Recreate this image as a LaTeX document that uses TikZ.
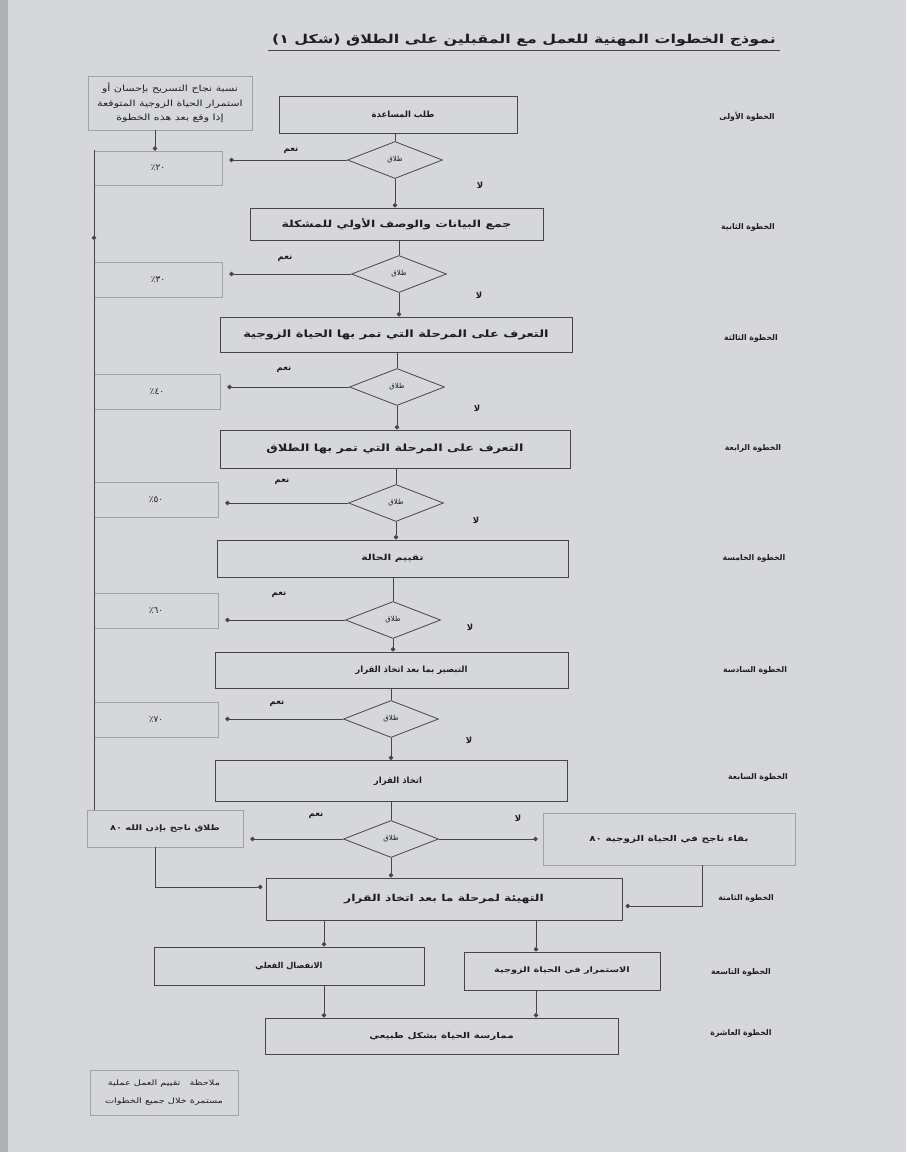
\documentclass[tikz,border=0pt]{standalone}
\usepackage{fontspec}
\usetikzlibrary{arrows.meta,shapes.geometric}
\TeXXeTstate=1
\newfontfamily\arf[Script=Arabic]{DejaVu Sans}
\newfontfamily\arw[Script=Arabic,FakeStretch=1.3]{DejaVu Sans}
\newcommand\AR[1]{{\arf\beginR #1\endR}}
\newcommand\ARW[1]{{\arw\beginR #1\endR}}
\definecolor{paper}{RGB}{213,215,219}
\definecolor{edge}{RGB}{175,177,182}
\definecolor{linec}{RGB}{70,70,72}
\definecolor{lightc}{RGB}{160,162,166}
\definecolor{txt}{RGB}{30,30,32}
\begin{document}
\begin{tikzpicture}[x=1pt,y=-1pt,
  mainbox/.style={draw=linec,line width=0.9pt,inner sep=0pt,font=\bfseries\fontsize{8}{9}\selectfont,text=txt},
  pctbox/.style={draw=lightc,line width=0.6pt,inner sep=0pt,font=\arf\fontsize{9}{10}\selectfont,text=txt},
  decide/.style={diamond,draw=linec,line width=0.8pt,inner sep=0pt,minimum width=95pt,minimum height=37pt,font=\fontsize{7}{8}\selectfont,text=txt},
  lab/.style={font=\bfseries\fontsize{8.5}{9}\selectfont,text=txt},
  steplab/.style={font=\bfseries\fontsize{7.8}{9}\selectfont,text=txt},
  conn/.style={draw=linec,line width=0.8pt},
  arr/.style={conn,-{Circle[length=4.5pt]}}
]
\fill[paper] (0,0) rectangle (906,1152);
\fill[edge] (0,0) rectangle (8,1152);
\useasboundingbox (0,0) rectangle (906,1152);

% title
\node[font=\bfseries\fontsize{12.2}{14}\selectfont,text=txt] (title) at (524,40) {\ARW{نموذج الخطوات المهنية للعمل مع المقبلين على الطلاق (شكل \beginL ١\endL)}};
\draw[linec,line width=1.1pt] ([yshift=-1pt]title.south west) -- ([yshift=-1pt]title.south east);

% top-left explanatory box
\node[pctbox,minimum width=164pt,minimum height=54pt,align=center,font=\fontsize{8.5}{14.5}\selectfont] (expl) at (170,103) {\ARW{نسبة نجاح التسريح بإحسان أو}\\\ARW{استمرار الحياة الزوجية المتوقعة}\\\ARW{إذا وقع بعد هذه الخطوة}};

% main boxes
\node[mainbox,minimum width=238pt,minimum height=37pt,font=\bfseries\fontsize{8.5}{10}\selectfont] (b1) at (398,114.5) {\hspace*{10pt}\AR{طلب المساعدة}};
\node[mainbox,minimum width=293pt,minimum height=32pt,font=\bfseries\fontsize{9.6}{11}\selectfont] (b2) at (396.5,224) {\ARW{جمع البيانات والوصف الأولي للمشكلة}};
\node[mainbox,minimum width=352pt,minimum height=35pt,font=\bfseries\fontsize{10}{11}\selectfont] (b3) at (396,334.5) {\ARW{التعرف على المرحلة التي تمر بها الحياة الزوجية}};
\node[mainbox,minimum width=350pt,minimum height=38pt,font=\bfseries\fontsize{9.9}{11}\selectfont] (b4) at (395,449) {\ARW{التعرف على المرحلة التي تمر بها الطلاق}};
\node[mainbox,minimum width=351pt,minimum height=37pt,font=\bfseries\fontsize{8.2}{10}\selectfont] (b5) at (392.5,558.5) {\ARW{تقييم الحالة}};
\node[mainbox,minimum width=353pt,minimum height=36pt,font=\bfseries\fontsize{8.5}{10}\selectfont] (b6) at (391.5,670) {\hspace*{40pt}\AR{التبصير بما بعد اتخاذ القرار}};
\node[mainbox,minimum width=352pt,minimum height=41pt,font=\bfseries\fontsize{8.5}{10}\selectfont] (b7) at (391,781) {\hspace*{14pt}\AR{اتخاذ القرار}};
\node[mainbox,minimum width=356pt,minimum height=42pt,font=\bfseries\fontsize{9.5}{11}\selectfont] (b8) at (444,899) {\ARW{التهيئة لمرحلة ما بعد اتخاذ القرار}};
\node[mainbox,minimum width=270pt,minimum height=38pt,font=\bfseries\fontsize{8.2}{9}\selectfont] (b9a) at (289,966) {\AR{الانفصال الفعلي}};
\node[mainbox,minimum width=196pt,minimum height=38pt,font=\bfseries\fontsize{7.5}{9}\selectfont] (b9b) at (562,971) {\ARW{الاستمرار في الحياة الزوجية}};
\node[mainbox,minimum width=353pt,minimum height=36pt,font=\bfseries\fontsize{8}{9}\selectfont] (b10) at (441.5,1036) {\ARW{ممارسة الحياة بشكل طبيعي}};

% decisions
\node[decide] (d1) at (395,160) {\AR{طلاق}};
\node[decide] (d2) at (399,274) {\AR{طلاق}};
\node[decide] (d3) at (397,387) {\AR{طلاق}};
\node[decide] (d4) at (396,503) {\AR{طلاق}};
\node[decide] (d5) at (393,620) {\AR{طلاق}};
\node[decide] (d6) at (391,719) {\AR{طلاق}};
\node[decide] (d7) at (391,839) {\AR{طلاق}};

% percentage boxes
\node[pctbox,minimum width=128pt,minimum height=34pt] (p1) at (158,168) {\AR{\beginL ٢٠\endL ٪}};
\node[pctbox,minimum width=128pt,minimum height=35pt] (p2) at (158,280) {\AR{\beginL ٣٠\endL ٪}};
\node[pctbox,minimum width=126pt,minimum height=35pt] (p3) at (157,392) {\AR{\beginL ٤٠\endL ٪}};
\node[pctbox,minimum width=124pt,minimum height=35pt] (p4) at (156,500) {\AR{\beginL ٥٠\endL ٪}};
\node[pctbox,minimum width=124pt,minimum height=35pt] (p5) at (156,611) {\AR{\beginL ٦٠\endL ٪}};
\node[pctbox,minimum width=124pt,minimum height=35pt] (p6) at (156,720) {\AR{\beginL ٧٠\endL ٪}};

% outcome boxes
\node[pctbox,minimum width=156pt,minimum height=37pt,font=\bfseries\fontsize{7.5}{8}\selectfont] (ol) at (165,828.5) {\ARW{طلاق ناجح بإذن الله \beginL ٨٠\endL}};
\node[pctbox,minimum width=252pt,minimum height=52pt,font=\bfseries\fontsize{8}{9}\selectfont] (or) at (669,839) {\ARW{بقاء ناجح في الحياة الزوجية \beginL ٨٠\endL}};

% note
\node[pctbox,minimum width=148pt,minimum height=45pt,align=center,font=\fontsize{7.5}{18}\selectfont] (note) at (164,1093) {\ARW{ملاحظة\ \ \ تقييم العمل عملية}\\\ARW{مستمرة خلال جميع الخطوات}};

% step labels
\node[steplab] (s1) at (747,117) {\AR{الخطوة الأولى}};
\node[steplab] (s2) at (748,227) {\AR{الخطوة الثانية}};
\node[steplab] (s3) at (751,338) {\AR{الخطوة الثالثة}};
\node[steplab] (s4) at (753,448) {\AR{الخطوة الرابعة}};
\node[steplab] (s5) at (754,558) {\AR{الخطوة الخامسة}};
\node[steplab] (s6) at (755,670) {\AR{الخطوة السادسة}};
\node[steplab] (s7) at (758,777) {\AR{الخطوة السابعة}};
\node[steplab] (s8) at (746,898) {\AR{الخطوة الثامنة}};
\node[steplab] (s9) at (741,972) {\AR{الخطوة التاسعة}};
\node[steplab] (s10) at (741,1033) {\AR{الخطوة العاشرة}};

% helper coordinates
\coordinate (xa) at (155,0);
\coordinate (xb) at (702,0);
\coordinate (xc) at (324,0);
\coordinate (xd) at (536,0);
\coordinate (ya) at (0,887);
\coordinate (yb) at (0,906);

% vertical flow
\draw[arr] (expl.south -| xa) -- (p1.north -| xa);
\draw[conn] (b1.south -| d1.north) -- (d1.north);
\draw[arr] (d1.south) -- (d1.south |- b2.north);
\draw[conn] (b2.south -| d2.north) -- (d2.north);
\draw[arr] (d2.south) -- (d2.south |- b3.north);
\draw[conn] (b3.south -| d3.north) -- (d3.north);
\draw[arr] (d3.south) -- (d3.south |- b4.north);
\draw[conn] (b4.south -| d4.north) -- (d4.north);
\draw[arr] (d4.south) -- (d4.south |- b5.north);
\draw[conn] (b5.south -| d5.north) -- (d5.north);
\draw[arr] (d5.south) -- (d5.south |- b6.north);
\draw[conn] (b6.south -| d6.north) -- (d6.north);
\draw[arr] (d6.south) -- (d6.south |- b7.north);
\draw[conn] (b7.south -| d7.north) -- (d7.north);
\draw[arr] (d7.south) -- (d7.south |- b8.north);

% yes branches
\draw[arr] (d1.west) -- ([xshift=7pt]p1.east |- d1.west);
\draw[arr] (d2.west) -- ([xshift=7pt]p2.east |- d2.west);
\draw[arr] (d3.west) -- ([xshift=7pt]p3.east |- d3.west);
\draw[arr] (d4.west) -- ([xshift=7pt]p4.east |- d4.west);
\draw[arr] (d5.west) -- ([xshift=7pt]p5.east |- d5.west);
\draw[arr] (d6.west) -- ([xshift=7pt]p6.east |- d6.west);
\draw[arr] (d7.west) -- ([xshift=7pt]ol.east |- d7.west);
\draw[arr] (d7.east) -- ([xshift=-5pt]or.west |- d7.east);

% left collector line
\coordinate (lt) at (94,150);
\coordinate (lm) at (94,240);
\draw[arr] (lt) -- (lm);
\draw[conn] (lm) -- (ol.north west -| lm);

% outcomes to step 8
\draw[arr] (ol.south -| xa) |- ([xshift=-3pt]b8.west |- ya);
\draw[arr] (or.south -| xb) |- ([xshift=3pt]b8.east |- yb);

% step 8 -> 9 -> 10
\draw[arr] (b8.south -| xc) -- (b9a.north -| xc);
\draw[arr] (b8.south -| xd) -- (b9b.north -| xd);
\draw[arr] (b9a.south -| xc) -- (b10.north -| xc);
\draw[arr] (b9b.south -| xd) -- (b10.north -| xd);

% yes / no labels
\node[lab] (y1) at (291,150) {\AR{نعم}};
\node[lab] (n1) at (480,185) {\AR{لا}};
\node[lab] (y2) at (285,258) {\AR{نعم}};
\node[lab] (n2) at (479,295) {\AR{لا}};
\node[lab] (y3) at (284,369) {\AR{نعم}};
\node[lab] (n3) at (477,408) {\AR{لا}};
\node[lab] (y4) at (282,481) {\AR{نعم}};
\node[lab] (n4) at (476,520) {\AR{لا}};
\node[lab] (y5) at (279,594) {\AR{نعم}};
\node[lab] (n5) at (470,627) {\AR{لا}};
\node[lab] (y6) at (277,703) {\AR{نعم}};
\node[lab] (n6) at (469,740) {\AR{لا}};
\node[lab] (y7) at (316,815) {\AR{نعم}};
\node[lab] (n7) at (518,818) {\AR{لا}};
\end{tikzpicture}
\end{document}
